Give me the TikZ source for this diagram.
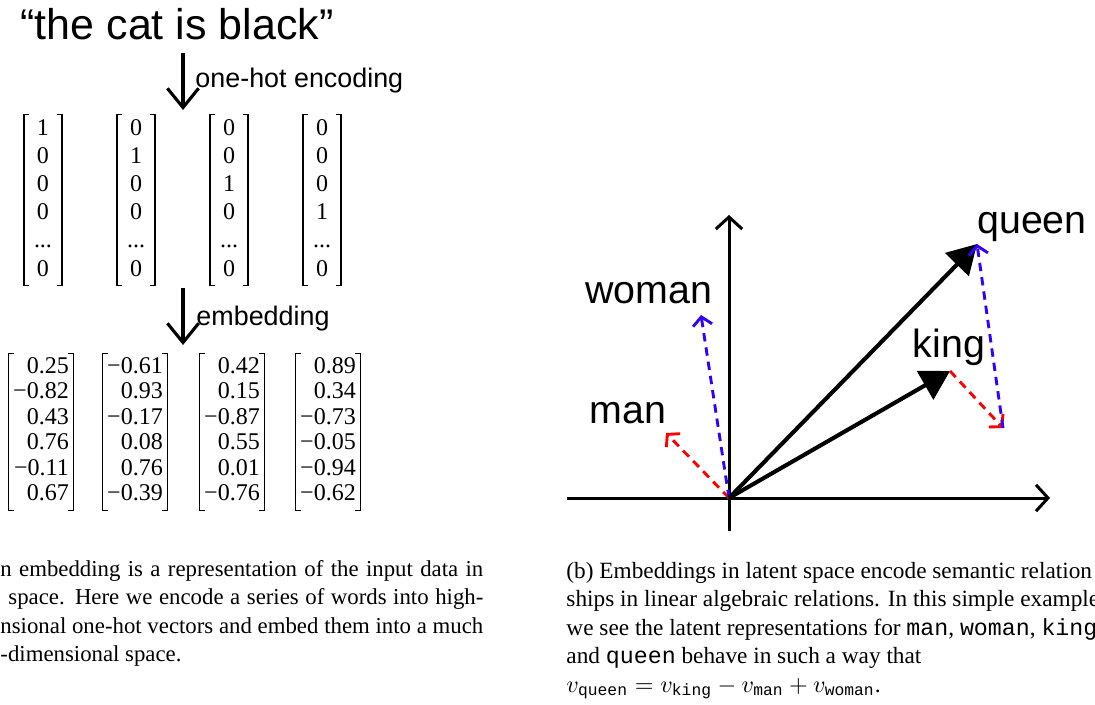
\documentclass[tikz,border=0pt]{standalone}
\usepackage{fontspec}
\setmainfont{Liberation Serif}
\setsansfont{Liberation Sans}
\newfontfamily\codefont{Liberation Mono}
\usetikzlibrary{arrows.meta}
\definecolor{diffblue}{RGB}{51,0,255}
\definecolor{diffred}{RGB}{255,0,0}
\newcommand{\hotvec}[1]{\renewcommand{\arraystretch}{0.98}\begin{tabular}{@{}c@{}}#1\end{tabular}}
\newcommand{\embvec}[1]{\renewcommand{\arraystretch}{0.885}\begin{tabular}{@{}r@{}}#1\end{tabular}}
\newcommand{\cw}[1]{{\codefont #1}}
\newcommand{\subcw}[1]{\mbox{\fontsize{6.8}{8}\selectfont\codefont #1}}
\tikzset{
  heading/.style={font=\sffamily\fontsize{17.9}{20}\selectfont, inner sep=0pt},
  steplabel/.style={font=\sffamily\fontsize{11.2}{13}\selectfont, anchor=base west, inner sep=0pt},
  onehot/.style={inner xsep=4pt, inner ysep=0pt, font=\fontsize{10}{12}\selectfont},
  latent/.style={inner xsep=1.7pt, inner ysep=0.5pt, font=\fontsize{10}{12}\selectfont},
  bracket/.style={line width=0.5pt},
  bigarrow/.style={-{Straight Barb[length=8pt,width=13pt]}, line width=1.3pt},
  axis/.style={-{Straight Barb[length=5pt,width=11pt]}, line width=1.25pt},
  wordvec/.style={-{Triangle[length=12pt,width=13.5pt]}, line width=1.7pt},
  reddiff/.style={-{Straight Barb[length=3.5pt,width=8pt]}, line width=1.2pt, dash pattern=on 3.5pt off 2.5pt, diffred},
  bluediff/.style={-{Straight Barb[length=3.5pt,width=8pt]}, line width=1.2pt, dash pattern=on 3.5pt off 2.5pt, diffblue},
  word/.style={font=\sffamily\fontsize{16.4}{19}\selectfont, inner sep=0pt, anchor=base},
  capline/.style={font=\fontsize{9.5}{12}\selectfont, inner sep=0pt, anchor=base west},
  caplineb/.style={font=\fontsize{9.7}{12}\selectfont, inner sep=0pt, anchor=base west}
}
\begin{document}
\begin{tikzpicture}[x=0.4167pt, y=-0.4167pt]
  \useasboundingbox (0,0) rectangle (1095,704);
  % (a) one-hot and embedding
  \node[heading, anchor=base] (sentence) at (177,40) {``the cat is black''};
  \coordinate (enctop) at (183,53); \coordinate (encbot) at (183,110);
  \draw[bigarrow] (enctop) -- (encbot);
  \node[steplabel] (enclbl) at (195,88) {one-hot encoding};
  \node[onehot] (h1) at (43,200) {\hotvec{1\\0\\0\\0\\...\\0}};
  \node[onehot] (h2) at (136,200) {\hotvec{0\\1\\0\\0\\...\\0}};
  \node[onehot] (h3) at (229,200) {\hotvec{0\\0\\1\\0\\...\\0}};
  \node[onehot] (h4) at (322,200) {\hotvec{0\\0\\0\\1\\...\\0}};
  \coordinate (embtop) at (183,288); \coordinate (embbot) at (183,345);
  \draw[bigarrow] (embtop) -- (embbot);
  \node[steplabel] (emblbl) at (196,325) {embedding};
  \node[latent] (e1) at (41,432) {\embvec{0.25\\−0.82\\0.43\\0.76\\−0.11\\0.67}};
  \node[latent] (e2) at (135,432) {\embvec{−0.61\\0.93\\−0.17\\0.08\\0.76\\−0.39}};
  \node[latent] (e3) at (232,432) {\embvec{0.42\\0.15\\−0.87\\0.55\\0.01\\−0.76}};
  \node[latent] (e4) at (328,432) {\embvec{0.89\\0.34\\−0.73\\−0.05\\−0.94\\−0.62}};
  \foreach \v in {h1,h2,h3,h4,e1,e2,e3,e4} {
    \draw[bracket] ([xshift=2.2pt]\v.north west) -| (\v.south west) -- ++(2.2pt,0);
    \draw[bracket] ([xshift=-2.2pt]\v.north east) -| (\v.south east) -- ++(-2.2pt,0);
  }
  \node[capline] (capa1) at (0,576) {\hbox to 201.2pt{n embedding is a representation of the input data in}};
  \node[capline] (capa2) at (8,604) {\hbox to 197.9pt{space. Here we encode a series of words into high-}};
  \node[capline] (capa3) at (0,633) {\hbox to 201.2pt{nsional one-hot vectors and embed them into a much}};
  \node[capline] (capa4) at (0,661) {-dimensional space.};
  % (b) latent space
  \coordinate (O) at (729,498);
  \coordinate (xl) at (567,498); \coordinate (xr) at (1050,498);
  \coordinate (yb) at (729,531); \coordinate (yt) at (729,215);
  \draw[axis] (xl) -- (xr);
  \draw[axis] (yb) -- (yt);
  \coordinate (queen) at (977,244);
  \coordinate (king) at (950,371);
  \coordinate (woman) at (701,315);
  \coordinate (man) at (666,433);
  \coordinate (sum) at (1003,428);
  \draw[reddiff] (O) -- (man);
  \draw[bluediff] (O) -- (woman);
  \draw[wordvec] (O) -- (queen);
  \draw[wordvec] (O) -- (king);
  \draw[reddiff] (king) -- (sum);
  \draw[bluediff] (sum) -- (queen);
  \node[word] (queenlbl) at (1032,234) {queen};
  \node[word] (womanlbl) at (649,303) {woman};
  \node[word] (kinglbl) at (949,357) {king};
  \node[word] (manlbl) at (628,423) {man};
  \node[caplineb] (capb1) at (566,578) {(b) Embeddings in latent space encode semantic relation};
  \node[caplineb] (capb2) at (566,606) {ships in linear algebraic relations. In this simple example};
  \node[caplineb] (capb3) at (566,635) {we see the latent representations for \cw{man}, \cw{woman}, \cw{king}};
  \node[caplineb] (capb4) at (566,663) {and \cw{queen} behave in such a way that};
  \node[caplineb] (capb5) at (566,692) {$v_{\subcw{queen}} = v_{\subcw{king}} - v_{\subcw{man}} + v_{\subcw{woman}}$.};
\end{tikzpicture}
\end{document}
